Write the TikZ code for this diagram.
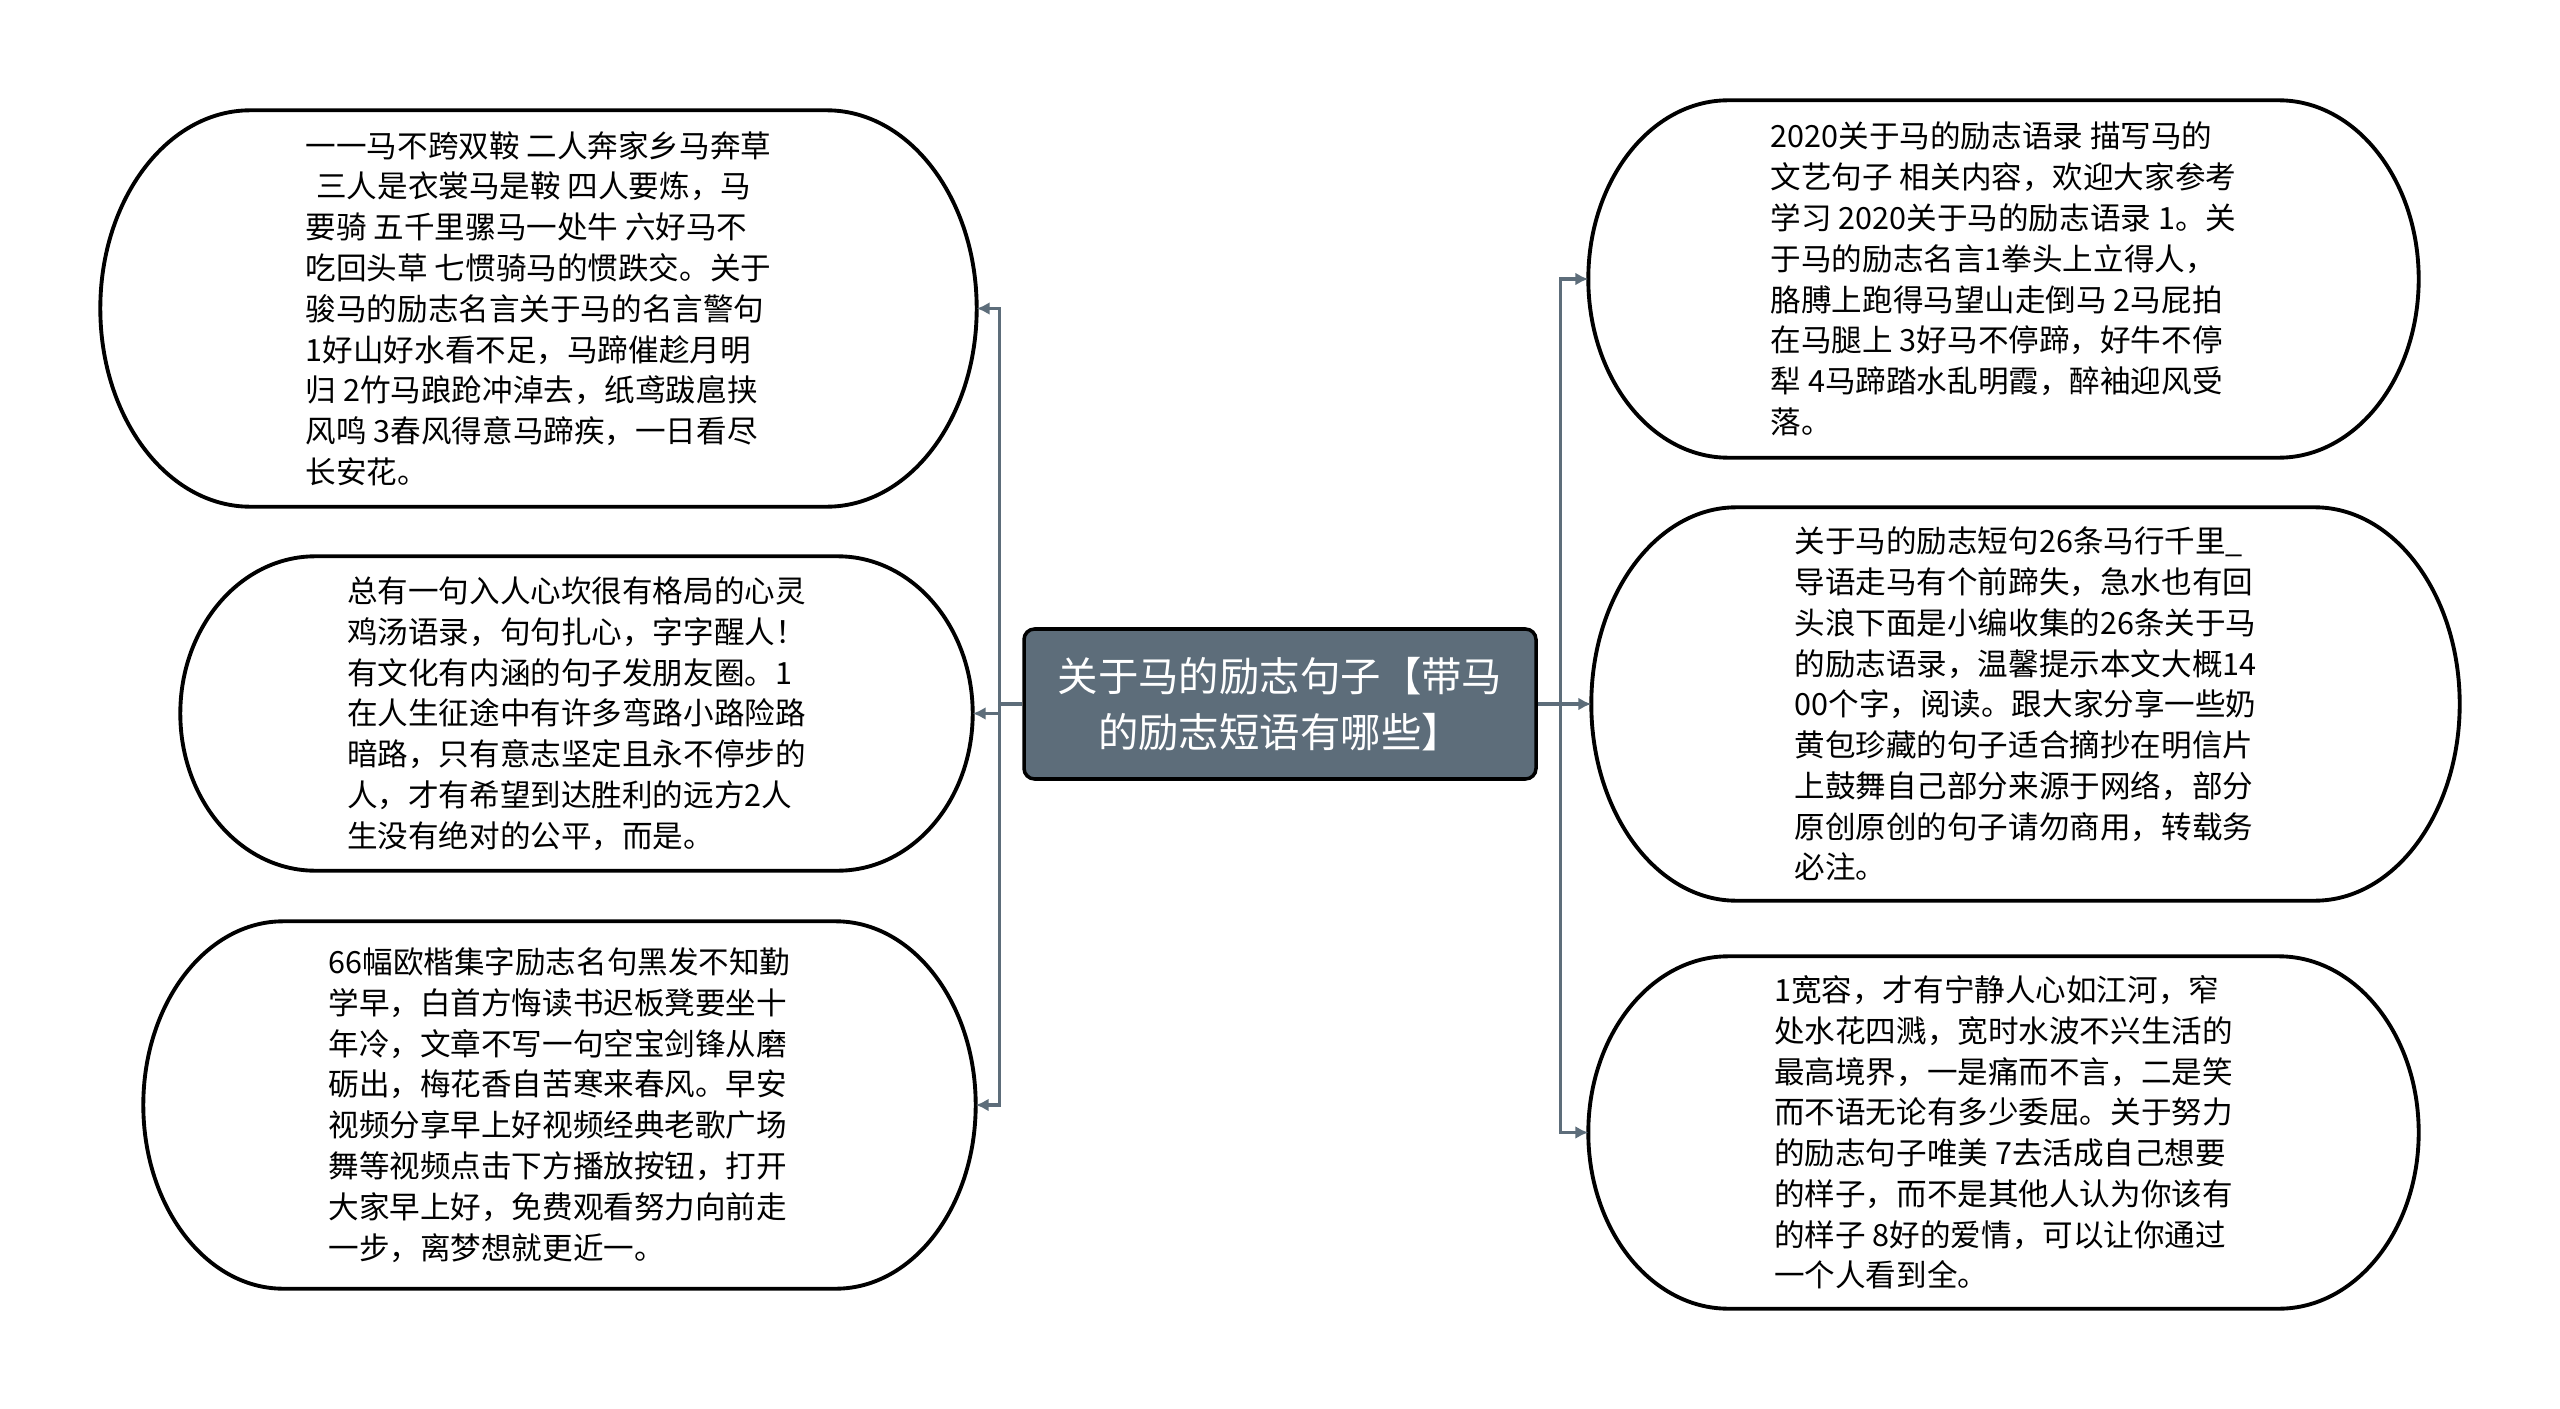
\documentclass[tikz,border=0pt]{standalone}
\usepackage{fontspec}
\setmainfont{Noto Sans CJK SC}
\usepackage{xcolor}
\usepackage{tikz}
\usetikzlibrary{arrows.meta,positioning,calc}
\definecolor{slate}{HTML}{5D6D7A}
\newcommand{\pill}[2]{%
  \draw[pl] let \p1=(#1.north), \p2=(#1.south), \n1={(\y1-\y2)/2} in
    ($(#1.north west)+(#2,0)$) -- ($(#1.north east)+(-#2,0)$)
    arc[start angle=90, end angle=-90, x radius=#2, y radius=\n1]
    -- ($(#1.south west)+(#2,0)$)
    arc[start angle=270, end angle=90, x radius=#2, y radius=\n1] -- cycle;}

\begin{document}
\begin{tikzpicture}[
  txt/.style ={align=left, inner sep=0pt, font=\fontsize{8.7}{11.6}\selectfont},
  hub/.style ={draw=black, line width=1pt, fill=slate, text=white, rounded corners=3pt,
               align=center, minimum width=5.12cm, minimum height=1.5cm,
               font=\fontsize{11.5}{15.8}\selectfont},
  pl/.style  ={draw=black, line width=1.1pt},
  ln/.style  ={slate, line width=0.9pt},
  ar/.style  ={ln, -{Latex[length=1.3mm, width=1.3mm]}}
]
\useasboundingbox (0,0) rectangle (25.6,-14.09);
% ---------- centre ----------
\node[hub] (root) at (12.80,-7.04) {关于马的励志句子【带马\\的励志短语有哪些】};

% ---------- left branches ----------
\node[txt, minimum width=8.75cm, minimum height=3.95cm] (la) at (5.385,-3.085)
  {一一马不跨双鞍 二人奔家乡马奔草\\
   \hspace*{3pt}三人是衣裳马是鞍 四人要炼，马\\
   要骑 五千里骡马一处牛 六好马不\\
   吃回头草 七惯骑马的惯跌交。关于\\
   骏马的励志名言关于马的名言警句\\
   1好山好水看不足，马蹄催趁月明\\
   归 2竹马踉跄冲淖去，纸鸢跋扈挟\\
   风鸣 3春风得意马蹄疾，一日看尽\\
   长安花。};
\node[txt, minimum width=7.91cm, minimum height=3.13cm] (lb) at (5.765,-7.135)
  {总有一句入人心坎很有格局的心灵\\
   鸡汤语录，句句扎心，字字醒人！\\
   有文化有内涵的句子发朋友圈。1\\
   在人生征途中有许多弯路小路险路\\
   暗路，只有意志坚定且永不停步的\\
   人，才有希望到达胜利的远方2人\\
   生没有绝对的公平，而是。};
\node[txt, minimum width=8.31cm, minimum height=3.66cm] (lc) at (5.595,-11.05)
  {66幅欧楷集字励志名句黑发不知勤\\
   学早，白首方悔读书迟板凳要坐十\\
   年冷，文章不写一句空宝剑锋从磨\\
   砺出，梅花香自苦寒来春风。早安\\
   视频分享早上好视频经典老歌广场\\
   舞等视频点击下方播放按钮，打开\\
   大家早上好，免费观看努力向前走\\
   一步，离梦想就更近一。};

% ---------- right branches ----------
\node[txt, minimum width=8.29cm, minimum height=3.56cm] (ra) at (20.035,-2.79)
  {2020关于马的励志语录 描写马的\\
   文艺句子 相关内容，欢迎大家参考\\
   学习 2020关于马的励志语录 1。关\\
   于马的励志名言1拳头上立得人，\\
   胳膊上跑得马望山走倒马 2马屁拍\\
   在马腿上 3好马不停蹄，好牛不停\\
   犁 4马蹄踏水乱明霞，醉袖迎风受\\
   落。};
\node[txt, minimum width=8.67cm, minimum height=3.92cm] (rb) at (20.255,-7.04)
  {关于马的励志短句26条马行千里\_\\
   导语走马有个前蹄失，急水也有回\\
   头浪下面是小编收集的26条关于马\\
   的励志语录，温馨提示本文大概14\\
   00个字，阅读。跟大家分享一些奶\\
   黄包珍藏的句子适合摘抄在明信片\\
   上鼓舞自己部分来源于网络，部分\\
   原创原创的句子请勿商用，转载务\\
   必注。};
\node[txt, minimum width=8.29cm, minimum height=3.51cm] (rc) at (20.035,-11.325)
  {1宽容，才有宁静人心如江河，窄\\
   处水花四溅，宽时水波不兴生活的\\
   最高境界，一是痛而不言，二是笑\\
   而不语无论有多少委屈。关于努力\\
   的励志句子唯美 7去活成自己想要\\
   的样子，而不是其他人认为你该有\\
   的样子 8好的爱情，可以让你通过\\
   一个人看到全。};

\pill{la}{1.5cm}
\pill{lb}{1.35cm}
\pill{lc}{1.4cm}
\pill{ra}{1.4cm}
\pill{rb}{1.45cm}
\pill{rc}{1.4cm}

% ---------- connectors ----------
\draw[ln] (root.west) -- ++(-0.23,0) coordinate (lj);
\draw[ar] (lj) |- (la.east);
\draw[ar] (lj) |- (lb.east);
\draw[ar] (lj) |- (lc.east);
\draw[ln] (root.east) -- ++(0.23,0) coordinate (rj);
\draw[ar] (rj) |- (ra.west);
\draw[ar] (rj) |- (rb.west);
\draw[ar] (rj) |- (rc.west);
\end{tikzpicture}
\end{document}
